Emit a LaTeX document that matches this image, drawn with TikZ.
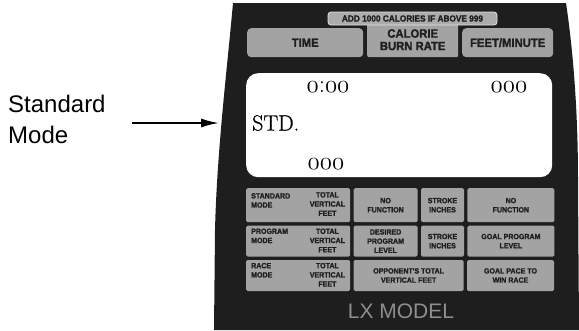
\documentclass[tikz,border=0pt]{standalone}
\usepackage{fontspec}
\newfontfamily\panelsans{Liberation Sans}
\newfontfamily\panelheavy[BoldFeatures={FakeBold=1.6,FakeStretch=0.94}]{Liberation Sans}
\newfontfamily\lcdserif[FakeBold=0.8]{Latin Modern Roman}
\usetikzlibrary{positioning,arrows.meta}
\definecolor{panelblack}{HTML}{1E1E1E}
\definecolor{keygray}{HTML}{A3A3A3}
\definecolor{inkgray}{HTML}{1F1F1F}
\definecolor{logogray}{HTML}{8E8E8E}
\newcommand\keyfont{\panelheavy\bfseries\fontsize{7.5}{9.2}\selectfont}
\newcommand\osf[1]{\legacyoldstylenums{#1}}

\begin{document}
\begin{tikzpicture}[x=1pt,y=-1pt,node distance=3pt and 3pt,
										keycell/.style={fill=keygray,rounded corners=1.5pt,inner sep=0pt,minimum height=31pt,align=center,text=inkgray,font=\keyfont},
										keytext/.style={inner sep=0pt,align=center,text=inkgray,font=\keyfont},
										headbox/.style={fill=keygray,rounded corners=4pt,inner sep=0pt,anchor=north west,minimum height=29pt,align=center,text=inkgray,font=\panelheavy\bfseries\fontsize{12}{12.5}\selectfont},
										lcd/.style={inner sep=0pt,text=black}
										]
	\useasboundingbox (0,0) rectangle (579,330);
	% console body
	\fill[panelblack] (233,3) -- (566,3) .. controls (573,50) and (578,110) .. (578,180) -- (579,330) -- (214,330) -- (215,230) .. controls (217,150) and (227,70) .. (233,3) -- cycle;

	% top row of labels
	\node[headbox,minimum width=116pt] (time) at (247,28) {TIME};
	\node[headbox,minimum width=91pt,minimum height=35pt,rounded corners=2pt] (calorie) at (367,22) {\\[-4pt]CALORIE\\BURN RATE};
	\node[headbox,minimum width=91pt] (feet) at (462,28) {FEET/MINUTE};
	\node[fill=keygray!90!white,draw=white!70!keygray,line width=0.8pt,rounded corners=3pt,minimum width=169pt,minimum height=13pt,inner sep=0pt,text=inkgray,font=\panelheavy\bfseries\fontsize{8.8}{9}\selectfont] (adds) at (412.5,18.5) {ADD 1000 CALORIES IF ABOVE 999};

	% display
	\node[fill=white,rounded corners=12pt,minimum width=306pt,minimum height=104pt,inner sep=0pt,anchor=north west] (screen) at (246,73) {};
	\node[lcd,font=\fontsize{25}{25}\selectfont] (clock) at (328,87) {\osf{0}:\osf{00}};
	\node[lcd,font=\fontsize{25}{25}\selectfont] (rate) at (509,87) {\osf{000}};
	\node[lcd,font=\lcdserif\fontsize{22}{22}\selectfont,anchor=west] (mode) at (252,123) {STD.};
	\node[lcd,font=\fontsize{25}{25}\selectfont] (total) at (326,164) {\osf{000}};

	% key grid
	\node[keycell,minimum width=104pt,minimum height=34pt,anchor=north west] (c11) at (246,188) {};
	\node[keycell,minimum width=64pt,minimum height=34pt,right=of c11] (c12) {NO\\FUNCTION};
	\node[keycell,minimum width=43pt,minimum height=34pt,right=of c12] (c13) {STROKE\\INCHES};
	\node[keycell,minimum width=87pt,minimum height=34pt,right=of c13] (c14) {NO\\FUNCTION};

	\node[keycell,minimum width=104pt,below=of c11] (c21) {};
	\node[keycell,minimum width=64pt,right=of c21] (c22) {DESIRED\\PROGRAM\\LEVEL};
	\node[keycell,minimum width=43pt,right=of c22] (c23) {STROKE\\INCHES};
	\node[keycell,minimum width=87pt,right=of c23] (c24) {GOAL PROGRAM\\LEVEL};

	\node[keycell,minimum width=104pt,below=of c21] (c31) {};
	\node[keycell,minimum width=110pt,right=of c31] (c32) {OPPONENT'S TOTAL\\VERTICAL FEET};
	\node[keycell,minimum width=87pt,right=of c32] (c34) {GOAL PACE TO\\WIN RACE};

	\node[keytext,anchor=north west,align=left] at ([shift={(5pt,-5pt)}]c11.north west) {STANDARD\\MODE};
	\node[keytext,anchor=north] at ([shift={(-23pt,-4pt)}]c11.north east) {TOTAL\\VERTICAL\\FEET};
	\node[keytext,anchor=north west,align=left] at ([shift={(5pt,-3pt)}]c21.north west) {PROGRAM\\MODE};
	\node[keytext,anchor=north] at ([shift={(-23pt,-3pt)}]c21.north east) {TOTAL\\VERTICAL\\FEET};
	\node[keytext,anchor=north west,align=left] at ([shift={(5pt,-3pt)}]c31.north west) {RACE\\MODE};
	\node[keytext,anchor=north] at ([shift={(-23pt,-3pt)}]c31.north east) {TOTAL\\VERTICAL\\FEET};

	\node[text=logogray,font=\panelsans\fontsize{21}{21}\selectfont] (model) at (401,311) {LX MODEL};

	% callout
	\node[inner sep=0pt,anchor=north west,align=left,font=\panelsans\fontsize{24}{31}\selectfont] (stdlabel) at (8,95) {Standard\\Mode};
	\coordinate (arrowstart) at (132,123);
	\coordinate (arrowtip) at (219,123);
	\draw[line width=1.8pt,-{Latex[length=18pt,width=9pt]}] (arrowstart) -- (arrowtip);

\end{tikzpicture}
\end{document}
